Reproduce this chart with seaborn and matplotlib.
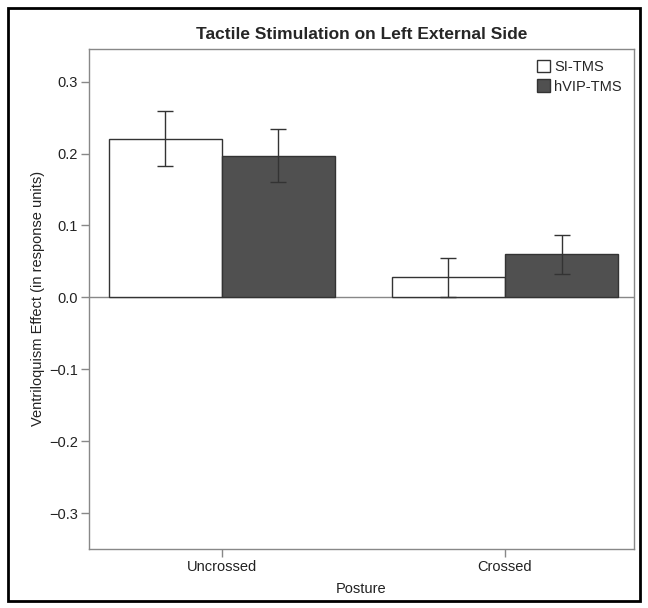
import numpy as np
import pandas as pd
import matplotlib
matplotlib.use("Agg")
import matplotlib.pyplot as plt
import seaborn as sns
from matplotlib.patches import Rectangle

# Data
postures = ['Uncrossed', 'Crossed']
conditions = ['SI-TMS', 'hVIP-TMS']
si_means = [0.221, 0.028]
hvip_means = [0.197, 0.060]
si_err = [0.038, 0.027]
hvip_err = [0.037, 0.027]

df = pd.DataFrame({
    'Posture': postures * 2,
    'Condition': [conditions[0]] * 2 + [conditions[1]] * 2,
    'Effect': si_means + hvip_means,
    'Err': si_err + hvip_err,
})

sns.set_style('white')
plt.rcParams['font.family'] = ['Liberation Sans', 'DejaVu Sans']

fig = plt.figure(figsize=(6.48, 6.08), dpi=100)
ax = fig.add_axes([0.137, 0.097, 0.841, 0.823])

palette = {'SI-TMS': 'white', 'hVIP-TMS': '#505050'}
sns.barplot(data=df, x='Posture', y='Effect', hue='Condition', order=postures,
            hue_order=conditions, palette=palette, errorbar=None,
            edgecolor='#333333', linewidth=1.0, width=0.8, ax=ax)

# error bars on the bar centres that seaborn laid out
for cont, cond in zip(ax.containers, conditions):
    sub = df[df['Condition'] == cond].set_index('Posture').loc[postures]
    xs = [p.get_x() + p.get_width() / 2 for p in cont.patches]
    ax.errorbar(xs, sub['Effect'], yerr=sub['Err'], fmt='none',
                ecolor='#333333', elinewidth=1.0, capsize=6, capthick=1.0)

ax.axhline(0, color='#888888', linewidth=1.0, zorder=0)
ax.set_xlim(-0.47, 1.455)
ax.set_ylim(-0.35, 0.346)
ax.set_yticks([-0.3, -0.2, -0.1, 0.0, 0.1, 0.2, 0.3])
ax.set_yticklabels(['\u22120.3', '\u22120.2', '\u22120.1', '0.0', '0.1', '0.2', '0.3'])

for s in ax.spines.values():
    s.set_color('#888888')
    s.set_linewidth(1.0)
ax.tick_params(axis='both', direction='out', length=6, width=1.0, pad=2,
               color='#888888', labelsize=10.5, labelcolor='#222222', left=True, bottom=True)

ax.set_xlabel('Posture', fontsize=10.5, color='#222222', labelpad=6)
ax.set_ylabel('Ventriloquism Effect (in response units)', fontsize=10.5,
              color='#222222', labelpad=3)
ax.set_title('Tactile Stimulation on Left External Side', fontsize=12.5,
             fontweight='bold', pad=7)

ax.legend(title=None, loc='upper right', frameon=False, fontsize=10.5,
          handlelength=0.9, handleheight=0.9, handletextpad=0.3,
          labelspacing=0.35, borderaxespad=0.4)

# outer frame around the figure
fig.patches.append(Rectangle((8 / 648, 7 / 608), 632 / 648, 593 / 608,
                             transform=fig.transFigure, fill=False,
                             edgecolor='black', linewidth=2))

fig.savefig('out.png', dpi=100)
